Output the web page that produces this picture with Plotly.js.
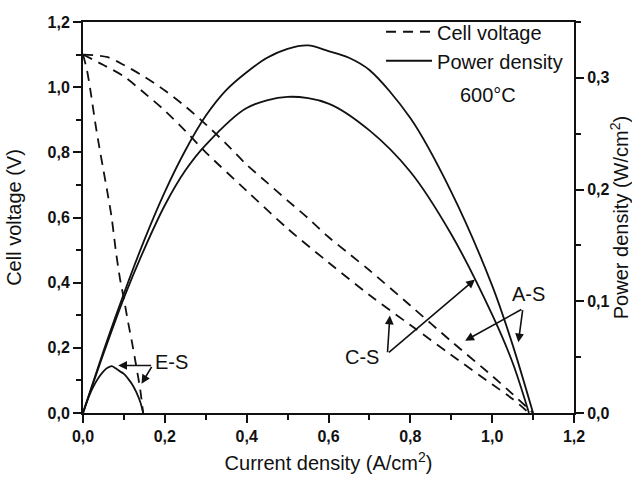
<!DOCTYPE html>
<html>
<head>
<meta charset="utf-8">
<script src="https://cdn.plot.ly/plotly-3.0.1.min.js"></script>
<style>
  html, body { margin: 0; padding: 0; background: #fff; }
  #chart { width: 632px; height: 479px; }
</style>
</head>
<body>
<div id="chart"></div>
<script>
// Current density (A/cm2) sample points for each cell
const currentCS = [0, 0.06, 0.1, 0.15, 0.2, 0.25, 0.3, 0.35, 0.4, 0.45, 0.5, 0.55, 0.6, 0.65, 0.7, 0.8, 0.9, 1.0, 1.05, 1.10];
const currentAS = [0, 0.05, 0.1, 0.15, 0.2, 0.25, 0.3, 0.4, 0.5, 0.6, 0.7, 0.8, 0.9, 1.0, 1.05, 1.09];
const currentES = [0, 0.01, 0.02, 0.03, 0.04, 0.05, 0.06, 0.07, 0.08, 0.09, 0.10, 0.11, 0.12, 0.13, 0.14, 0.147];

// Cell voltage (V)
const voltageCS = [1.10, 1.092, 1.068, 1.032, 0.99, 0.941, 0.886, 0.826, 0.762, 0.707, 0.652, 0.598, 0.54, 0.489, 0.438, 0.33, 0.22, 0.114, 0.058, 0.0];
const voltageAS = [1.10, 1.068, 1.033, 0.982, 0.928, 0.866, 0.80, 0.682, 0.566, 0.462, 0.362, 0.27, 0.178, 0.088, 0.043, 0.0];
const voltageES = [1.10, 1.05, 0.975, 0.89, 0.815, 0.745, 0.675, 0.60, 0.50, 0.415, 0.35, 0.28, 0.215, 0.145, 0.07, 0.0];

// Power density (W/cm2)
const powerCS = [0, 0.066, 0.107, 0.155, 0.198, 0.235, 0.266, 0.289, 0.305, 0.318, 0.326, 0.329, 0.324, 0.318, 0.307, 0.264, 0.198, 0.114, 0.061, 0];
const powerAS = [0, 0.053, 0.103, 0.147, 0.186, 0.217, 0.240, 0.273, 0.283, 0.277, 0.253, 0.216, 0.160, 0.088, 0.045, 0];
const powerES = [0, 0.0105, 0.0195, 0.0267, 0.0326, 0.0373, 0.0405, 0.042, 0.040, 0.0374, 0.035, 0.0308, 0.0258, 0.0189, 0.0098, 0];

// Tick labels
const xTicks = [0, 0.2, 0.4, 0.6, 0.8, 1.0, 1.2];
const voltTicks = [0, 0.2, 0.4, 0.6, 0.8, 1.0, 1.2];
const powerTicks = [0, 0.1, 0.2, 0.3];
const fmt = v => v.toFixed(1).replace('.', ',');

const FONT = 'Arial, "Liberation Sans", sans-serif';
const dashLine = { color: '#111', width: 1.8, dash: '10px,7px', shape: 'spline', smoothing: 0.8 };
const solidLine = { color: '#111', width: 1.8, shape: 'spline', smoothing: 0.9 };

const traces = [
  { x: currentCS, y: voltageCS, mode: 'lines', line: dashLine, name: 'Cell voltage', legendgroup: 'v', showlegend: true },
  { x: currentAS, y: voltageAS, mode: 'lines', line: dashLine, name: 'Cell voltage', legendgroup: 'v', showlegend: false },
  { x: currentES, y: voltageES, mode: 'lines', line: dashLine, name: 'Cell voltage', legendgroup: 'v', showlegend: false },
  { x: currentCS, y: powerCS, yaxis: 'y2', mode: 'lines', line: solidLine, name: 'Power density', legendgroup: 'p', showlegend: true },
  { x: currentAS, y: powerAS, yaxis: 'y2', mode: 'lines', line: solidLine, name: 'Power density', legendgroup: 'p', showlegend: false },
  { x: currentES, y: powerES, yaxis: 'y2', mode: 'lines', line: solidLine, name: 'Power density', legendgroup: 'p', showlegend: false }
];

const axisCommon = {
  showgrid: false, zeroline: false,
  showline: true, linecolor: '#111', linewidth: 2,
  ticks: 'outside', ticklen: 8, tickwidth: 2, tickcolor: '#111',
  tickfont: { family: FONT, size: 16, color: '#111', weight: 'bold' },
  automargin: false
};
const titleFont = { family: FONT, size: 20, color: '#111' };

// arrow helper: from (ax, ay) to (x, y) in left-axis data coordinates
const arrow = (ax, ay, x, y) => ({
  x, y, ax, ay, xref: 'x', yref: 'y', axref: 'x', ayref: 'y',
  text: '', showarrow: true, arrowhead: 2, arrowsize: 1.1, arrowwidth: 1.6,
  arrowcolor: '#111', standoff: 0, startstandoff: 0
});
const label = (x, y, text) => ({
  x, y, xref: 'x', yref: 'y', text, showarrow: false,
  font: { family: FONT, size: 20, color: '#111' }
});

const layout = {
  width: 632, height: 479,
  margin: { l: 83, r: 58, t: 19, b: 66 },
  paper_bgcolor: '#fff', plot_bgcolor: '#fff',
  font: { family: FONT, color: '#111' },
  showlegend: true,
  legend: {
    x: 0.607, y: 1.025, xanchor: 'left', yanchor: 'top',
    bgcolor: 'rgba(0,0,0,0)', borderwidth: 0,
    font: { family: FONT, size: 20, color: '#111' },
    itemwidth: 46, tracegroupgap: 0
  },
  xaxis: Object.assign({}, axisCommon, {
    range: [0, 1.2], mirror: true,
    tickvals: xTicks, ticktext: xTicks.map(fmt),
    minor: { dtick: 0.1, ticks: 'outside', ticklen: 5, tickwidth: 2, tickcolor: '#111' },
    title: { text: 'Current density (A/cm<sup>2</sup>)', font: titleFont, standoff: 12 }
  }),
  yaxis: Object.assign({}, axisCommon, {
    range: [0, 1.2],
    tickvals: voltTicks, ticktext: voltTicks.map(fmt),
    minor: { dtick: 0.1, ticks: 'outside', ticklen: 5, tickwidth: 2, tickcolor: '#111' },
    title: { text: 'Cell voltage (V)', font: titleFont, standoff: 21 }
  }),
  yaxis2: Object.assign({}, axisCommon, {
    range: [0, 0.35], overlaying: 'y', side: 'right',
    tickvals: powerTicks, ticktext: powerTicks.map(fmt),
    minor: { dtick: 0.05, ticks: 'outside', ticklen: 5, tickwidth: 2, tickcolor: '#111' },
    title: { text: 'Power density (W/cm<sup>2</sup>)', font: titleFont, standoff: 12 }
  }),
  annotations: [
    label(0.99, 0.975, '600°C'),
    label(0.2175, 0.156, 'E-S'),
    arrow(0.17, 0.146, 0.086, 0.146),
    arrow(0.17, 0.146, 0.143, 0.09),
    label(0.682, 0.171, 'C-S'),
    arrow(0.744, 0.182, 0.75, 0.299),
    arrow(0.744, 0.182, 0.958, 0.41),
    label(1.09, 0.365, 'A-S'),
    arrow(1.075, 0.32, 0.934, 0.222),
    arrow(1.075, 0.32, 1.064, 0.217)
  ]
};

Plotly.newPlot('chart', traces, layout, { displayModeBar: false, staticPlot: true });
</script>
</body>
</html>
